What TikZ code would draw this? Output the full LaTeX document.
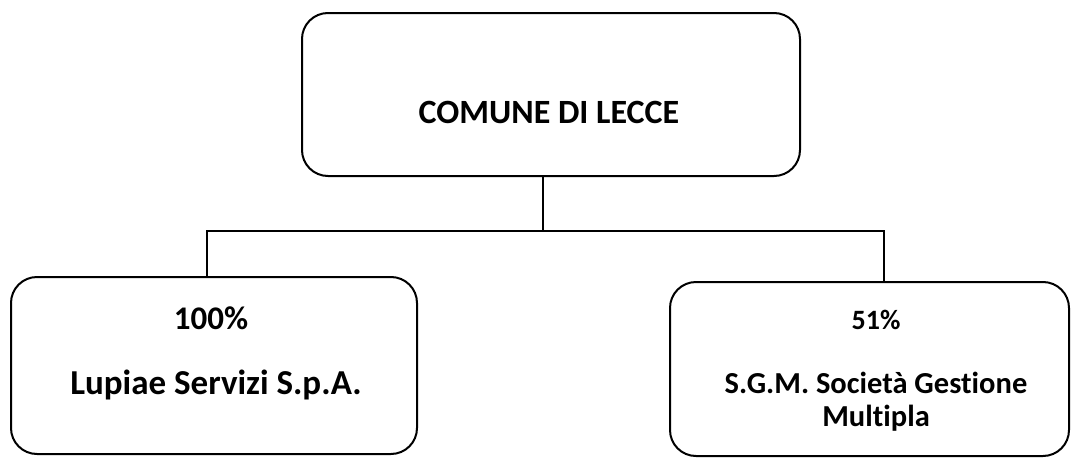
\documentclass[tikz,border=0pt]{standalone}
\usepackage{fontspec}
\setmainfont{Carlito}[Ligatures={NoCommon}]
\begin{document}
\begin{tikzpicture}[x=1pt,y=-1pt,
  box/.style={draw=black, line width=2pt, rounded corners=26pt, inner sep=0pt},
  lbl/.style={inner sep=0pt, font=\bfseries, align=center},
  conn/.style={draw=black, line width=1.6pt}]
\useasboundingbox[fill=white] (0,0) rectangle (1072,458);
% boxes
\node[box, minimum width=498pt, minimum height=163pt] (top) at (551,94.5) {};
\node[box, minimum width=406pt, minimum height=177pt] (left) at (214,365.5) {};
\node[box, minimum width=399pt, minimum height=174pt] (right) at (869.5,369) {};
% texts
\node[lbl, font=\bfseries\fontsize{34}{40}\selectfont] (t1) at (549,112) {COMUNE DI LECCE};
\node[lbl, font=\bfseries\fontsize{33}{40}\selectfont] (p1) at (211,318) {100\%};
\node[lbl, font=\bfseries\fontsize{35}{40}\selectfont] (n1) at (216,385) {Lupiae Servizi S.p.A.};
\node[lbl, font=\bfseries\fontsize{28}{33}\selectfont] (p2) at (876,320) {51\%};
\node[lbl, font=\bfseries\fontsize{30.5}{33}\selectfont, anchor=north] (n2) at (876,372) {S.G.M. Società Gestione\\Multipla};
% connectors
\coordinate (j) at (543,231);
\coordinate (jl) at (207,231);
\coordinate (jr) at (884,231);
\draw[conn] (top.south -| j) -- (j);
\draw[conn] (left.north -| jl) -- (jl) -- (jr) -- (right.north -| jr);
\end{tikzpicture}
\end{document}
